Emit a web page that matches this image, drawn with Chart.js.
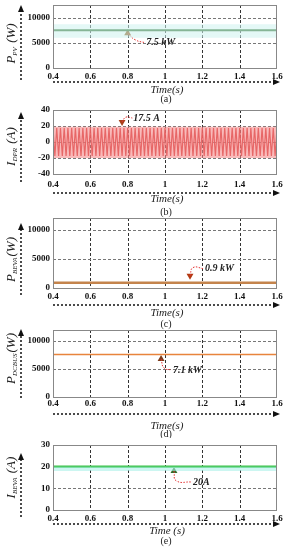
<!DOCTYPE html>
<html>
<head>
<meta charset="utf-8">
<script src="https://cdn.jsdelivr.net/npm/chart.js@4.4.1/dist/chart.umd.min.js"></script>
<style>
  body { margin: 0; background: #fff; width: 289px; height: 550px; position: relative; overflow: hidden; }
  canvas { position: absolute; left: 0; }
</style>
</head>
<body>
<canvas id="pa"></canvas>
<canvas id="pb"></canvas>
<canvas id="pc"></canvas>
<canvas id="pd"></canvas>
<canvas id="pe"></canvas>
<script>
// time axis
const timeTicks = [0.4, 0.6, 0.8, 1, 1.2, 1.4, 1.6];
const timeSpan = [0.4, 1.6];

// (a) PV power
const pvPower = [7500, 7500];
const pvBand = [8700, 6000];
// (b) DPR current, one peak every half cycle (0.01 s)
const dprStep = 0.01;
const dprCurrent = [
  17.5,-17.5,17.5,-17.5,17.5,-17.5,17.5,-17.5,17.5,-17.5,
  17.5,-17.5,17.5,-17.5,17.5,-17.5,17.5,-17.5,17.5,-17.5,
  17.5,-17.5,17.5,-17.5,17.5,-17.5,17.5,-17.5,17.5,-17.5,
  17.5,-17.5,17.5,-17.5,17.5,-17.5,17.5,-17.5,17.5,-17.5,
  17.5,-17.5,17.5,-17.5,17.5,-17.5,17.5,-17.5,17.5,-17.5,
  17.5,-17.5,17.5,-17.5,17.5,-17.5,17.5,-17.5,17.5,-17.5,
  17.5,-17.5,17.5,-17.5,17.5,-17.5,17.5,-17.5,17.5,-17.5,
  17.5,-17.5,17.5,-17.5,17.5,-17.5,17.5,-17.5,17.5,-17.5,
  17.5,-17.5,17.5,-17.5,17.5,-17.5,17.5,-17.5,17.5,-17.5,
  17.5,-17.5,17.5,-17.5,17.5,-17.5,17.5,-17.5,17.5,-17.5,
  17.5,-17.5,17.5,-17.5,17.5,-17.5,17.5,-17.5,17.5,-17.5,
  17.5,-17.5,17.5,-17.5,17.5,-17.5,17.5,-17.5,17.5,-17.5,
  17.5
];
const dprBand = [19, -20];
// (c) BEVA power
const bevaPower = [900, 900];
// (d) DC bus power
const dcBusPower = [7600, 7600];
// (e) BEVA current
const bevaCurrent = [20, 20];
const bevaBand = [20, 18];

// y ticks
const powerTicks = [0, 5000, 10000];
const dprTicks = [-40, -20, 0, 20, 40];
const bevaTicks = [0, 10, 20, 30];

// annotations: marker, bend of leader, text position
const noteText = ['7.5 kW', '17.5 A', '0.9 kW', '7.1 kW', '20A'];
const markerTime = [0.8, 0.77, 1.134, 0.979, 1.048];
const markerValue = [6900, 25, 2100, 6800, 18];
const bendTime = [0.84, 0.79, 1.15, 0.995, 1.06];
const bendValue = [5600, 31, 3500, 5200, 13.5];
const noteTime = [0.9, 0.83, 1.214, 1.043, 1.15];
const noteValue = [5000, 30, 3300, 4840, 12.9];

const SERIF = '"Liberation Serif", "Times New Roman", serif';

// dashed grid drawn under the data, skipping the frame edges
function makeGrid(p) {
  return {
    id: 'dashGrid',
    beforeDatasetsDraw(chart) {
      const ctx = chart.ctx, a = chart.chartArea;
      const xs = chart.scales.x, ys = chart.scales.y;
      ctx.save();
      ctx.lineWidth = 1;
      ctx.setLineDash([3, 2]);
      ctx.strokeStyle = '#333';
      timeTicks.slice(1, -1).forEach(t => {
        const x = Math.round(xs.getPixelForValue(t)) + 0.5;
        ctx.beginPath(); ctx.moveTo(x, a.top); ctx.lineTo(x, a.bottom); ctx.stroke();
      });
      ctx.strokeStyle = '#777';
      p.yTicks.filter(v => v > p.yMin && v < p.yMax).forEach(v => {
        const y = Math.round(ys.getPixelForValue(v)) + 0.5;
        ctx.beginPath(); ctx.moveTo(a.left, y); ctx.lineTo(a.right, y); ctx.stroke();
      });
      ctx.restore();
    }
  };
}

function makeDecor(p) {
  return {
    id: 'decor',
    afterDraw(chart) {
      const ctx = chart.ctx, a = chart.chartArea;
      const off = p.top;
      const xs = chart.scales.x, ys = chart.scales.y;
      ctx.save();
      // frame
      ctx.strokeStyle = '#888';
      ctx.lineWidth = 1;
      ctx.strokeRect(Math.round(a.left) + 0.5, Math.round(a.top) + 0.5,
                     Math.round(a.right - a.left) - 1, Math.round(a.bottom - a.top));
      // note text
      ctx.fillStyle = '#222';
      ctx.font = 'italic bold 10px ' + SERIF;
      ctx.textBaseline = 'middle';
      ctx.textAlign = 'left';
      ctx.fillText(noteText[p.i], xs.getPixelForValue(noteTime[p.i]), ys.getPixelForValue(noteValue[p.i]));
      // x arrow
      ctx.strokeStyle = '#111';
      ctx.fillStyle = '#111';
      ctx.lineWidth = 1.5;
      ctx.setLineDash([2, 2]);
      const ay = p.xArrow - off;
      ctx.beginPath(); ctx.moveTo(a.left, ay); ctx.lineTo(a.right - 2, ay); ctx.stroke();
      // y arrow
      ctx.beginPath(); ctx.moveTo(21, p.yArrow[1] - off); ctx.lineTo(21, p.yArrow[0] - off + 4); ctx.stroke();
      ctx.setLineDash([]);
      ctx.beginPath(); ctx.moveTo(a.right + 3, ay); ctx.lineTo(a.right - 4, ay - 3); ctx.lineTo(a.right - 4, ay + 3); ctx.fill();
      const ty = p.yArrow[0] - off;
      ctx.beginPath(); ctx.moveTo(21, ty); ctx.lineTo(18, ty + 7); ctx.lineTo(24, ty + 7); ctx.fill();
      // x title and panel letter
      ctx.textAlign = 'center';
      ctx.fillStyle = '#222';
      ctx.font = 'italic 11px ' + SERIF;
      ctx.fillText(p.xTitle, 167, p.timeY - off);
      ctx.font = '10px ' + SERIF;
      ctx.fillText(p.letter, 166, p.letterY - off);
      // y title with subscript
      ctx.translate(12, p.yTitleY - off);
      ctx.rotate(-Math.PI / 2);
      const f1 = 'italic 13px ' + SERIF, f2 = 'italic 7px ' + SERIF;
      ctx.font = f1;
      const w1 = ctx.measureText(p.yMain).width, w3 = ctx.measureText(p.yUnit).width;
      ctx.font = f2;
      const w2 = ctx.measureText(p.ySub).width;
      let x0 = -(w1 + w2 + w3) / 2;
      ctx.textAlign = 'left';
      ctx.textBaseline = 'middle';
      ctx.font = f1; ctx.fillText(p.yMain, x0, 0);
      ctx.font = f2; ctx.fillText(p.ySub, x0 + w1, 3);
      ctx.font = f1; ctx.fillText(p.yUnit, x0 + w1 + w2 + 1, 0);
      ctx.restore();
    }
  };
}

function buildPanel(p) {
  const canvas = document.getElementById(p.id);
  const H = p.bottom - p.top;
  canvas.width = 289; canvas.height = H;
  canvas.style.top = p.top + 'px';
  canvas.style.width = '289px'; canvas.style.height = H + 'px';
  const i = p.i;
  const datasets = p.series.slice();
  datasets.push({
    data: [
      { x: markerTime[i], y: markerValue[i] },
      { x: bendTime[i], y: bendValue[i] },
      { x: noteTime[i] - 0.005, y: noteValue[i] }
    ],
    borderColor: '#e23030', borderWidth: 1, borderDash: [1.5, 1.5],
    pointRadius: 0, tension: 0.5, fill: false
  });
  datasets.push({
    data: [{ x: markerTime[i], y: markerValue[i] }],
    showLine: false,
    pointStyle: 'triangle', pointRadius: 4,
    rotation: p.markerDown ? 180 : 0,
    backgroundColor: p.markerColor, borderColor: p.markerColor, borderWidth: 0
  });
  new Chart(canvas, {
    type: 'line',
    data: { datasets: datasets },
    options: {
      responsive: false, animation: false, devicePixelRatio: 1,
      layout: { padding: { top: p.plotTop - p.top, right: 12, left: 0, bottom: 0 } },
      plugins: { legend: { display: false }, tooltip: { enabled: false } },
      scales: {
        x: {
          type: 'linear', min: timeSpan[0], max: timeSpan[1],
          afterBuildTicks: s => { s.ticks = timeTicks.map(v => ({ value: v })); },
          afterFit: s => { s.height = p.bottom - p.plotBottom; s.paddingLeft = 0; s.paddingRight = 0; },
          ticks: { color: '#111', padding: p.xPad, maxRotation: 0, autoSkip: false,
                   font: { family: SERIF, size: 9, weight: 'bold' }, callback: v => String(v) },
          grid: { display: false, drawTicks: false },
          border: { display: false }
        },
        y: {
          min: p.yMin, max: p.yMax,
          afterBuildTicks: s => { s.ticks = p.yTicks.map(v => ({ value: v })); },
          afterFit: s => { s.width = 53; s.paddingTop = 0; s.paddingBottom = 0; },
          ticks: { color: '#111', padding: 3,
                   font: { family: SERIF, size: 9, weight: 'bold' }, callback: v => String(v) },
          grid: { display: false, drawTicks: false },
          border: { display: false }
        }
      }
    },
    plugins: [makeGrid(p), makeDecor(p)]
  });
}

const flat = (vals, color, width) => ({
  data: vals.map((v, k) => ({ x: timeSpan[k], y: v })),
  borderColor: color, borderWidth: width, pointRadius: 0, fill: false
});
function bandPair(vals, color) {
  return [
    { data: timeSpan.map(t => ({ x: t, y: vals[0] })), borderWidth: 0, borderColor: 'rgba(0,0,0,0)', pointRadius: 0, fill: false },
    { data: timeSpan.map(t => ({ x: t, y: vals[1] })), borderWidth: 0, borderColor: 'rgba(0,0,0,0)', pointRadius: 0, fill: '-1', backgroundColor: color }
  ];
}

const panels = [
  { id: 'pa', i: 0, top: 0, bottom: 105, plotTop: 5, plotBottom: 68, xPad: 3,
    yMin: 0, yMax: 12500, yTicks: powerTicks,
    series: [...bandPair(pvBand, 'rgba(205,242,238,0.55)'), flat(pvPower, '#2f6b2a', 2)],
    markerColor: '#8a5a18', markerDown: false,
    xArrow: 82, yArrow: [5, 80], timeY: 90, letterY: 99, xTitle: 'Time(s)', letter: '(a)',
    yTitleY: 44, yMain: 'P', ySub: 'PV', yUnit: ' (W)' },
  { id: 'pb', i: 1, top: 105, bottom: 218, plotTop: 110, plotBottom: 174, xPad: 5,
    yMin: -40, yMax: 40, yTicks: dprTicks,
    series: [...bandPair(dprBand, 'rgba(245,140,140,0.6)'),
      { data: dprCurrent.map((v, k) => ({ x: timeSpan[0] + k * dprStep, y: v })),
        borderColor: 'rgba(205,25,25,0.9)', borderWidth: 1.2, pointRadius: 0, fill: false }],
    markerColor: '#a8401a', markerDown: true,
    xArrow: 193, yArrow: [112, 182], timeY: 199, letterY: 212, xTitle: 'Time(s)', letter: '(b)',
    yTitleY: 147, yMain: 'I', ySub: 'DPR', yUnit: ' (A)' },
  { id: 'pc', i: 2, top: 213, bottom: 331, plotTop: 218, plotBottom: 288, xPad: 3,
    yMin: 0, yMax: 12000, yTicks: powerTicks,
    series: [flat(bevaPower, '#c4844c', 2.5)],
    markerColor: '#b23a12', markerDown: true,
    xArrow: 305, yArrow: [223, 295], timeY: 313, letterY: 324, xTitle: 'Time(s)', letter: '(c)',
    yTitleY: 260, yMain: 'P', ySub: 'BEVA', yUnit: '(W)' },
  { id: 'pd', i: 3, top: 325, bottom: 438, plotTop: 330, plotBottom: 397, xPad: 1,
    yMin: 0, yMax: 12000, yTicks: powerTicks,
    series: [flat(dcBusPower, '#e8843c', 1.5)],
    markerColor: '#7a3a1a', markerDown: false,
    xArrow: 414, yArrow: [329, 398], timeY: 426, letterY: 434, xTitle: 'Time(s)', letter: '(d)',
    yTitleY: 359, yMain: 'P', ySub: 'DCBUS', yUnit: '(W)' },
  { id: 'pe', i: 4, top: 440, bottom: 550, plotTop: 445, plotBottom: 510, xPad: 3,
    yMin: 0, yMax: 30, yTicks: bevaTicks,
    series: [...bandPair(bevaBand, 'rgba(170,240,232,0.6)'), flat(bevaCurrent, '#3cc24a', 2.5)],
    markerColor: '#2e6e2a', markerDown: false,
    xArrow: 524, yArrow: [453, 517], timeY: 531, letterY: 541, xTitle: 'Time (s)', letter: '(e)',
    yTitleY: 478, yMain: 'I', ySub: 'BEVA', yUnit: ' (A)' }
];

panels.forEach(buildPanel);
</script>
</body>
</html>
